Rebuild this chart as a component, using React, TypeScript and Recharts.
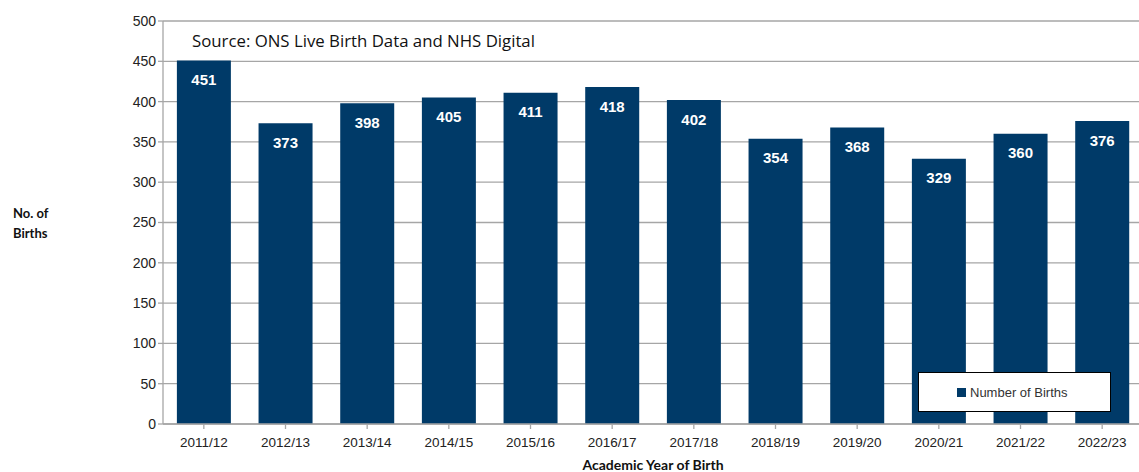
import React from "react";
import { BarChart, Bar, XAxis, YAxis, CartesianGrid, LabelList } from "recharts";

const years = ["2011/12","2012/13","2013/14","2014/15","2015/16","2016/17","2017/18","2018/19","2019/20","2020/21","2021/22","2022/23"];
const births = [451,373,398,405,411,418,402,354,368,329,360,376];
const yTicks = [0,50,100,150,200,250,300,350,400,450,500];

const data = years.map((y, i) => ({ year: y, births: births[i] }));

const BAR = "#003A68";
const FONT = "'Liberation Sans', Arial, sans-serif";

export default function App() {
  return (
    <div style={{ position: "absolute", left: 0, top: 0, width: 1139, height: 472, background: "#fff", overflow: "hidden" }}>
      <BarChart width={1139} height={472} data={data} margin={{ top: 21, right: -4, left: 103, bottom: 18 }} barCategoryGap="17%">
        <CartesianGrid vertical={false} stroke="#a6a6a6" strokeWidth={1.3} />
        <XAxis dataKey="year" stroke="#a6a6a6" strokeWidth={1.3} tickSize={5} height={30}
          tick={{ fill: "#222", fontSize: 13.5, fontFamily: FONT, dy: 6 }} interval={0}
          label={{ value: "Academic Year of Birth", position: "insideBottom", offset: -16, style: { fontFamily: "Lato, sans-serif", fontWeight: 700, fontSize: 14, fill: "#111" } }} />
        <YAxis domain={[0, 500]} ticks={yTicks} width={60} stroke="#a6a6a6" strokeWidth={1.3} tickSize={5}
          tick={{ fill: "#222", fontSize: 14, fontFamily: FONT }} interval={0} />
        <Bar dataKey="births" name="Number of Births" fill={BAR} isAnimationActive={false}>
          <LabelList dataKey="births" position="insideTop" offset={14} style={{ fill: "#fff", fontWeight: 700, fontSize: 15, fontFamily: FONT }} />
        </Bar>
      </BarChart>
      <div style={{ position: "absolute", left: 192, top: 29, fontFamily: "'Open Sans', sans-serif", fontSize: 16.8, color: "#111", whiteSpace: "nowrap" }}>
        Source: ONS Live Birth Data and NHS Digital
      </div>
      <div style={{ position: "absolute", left: 13, top: 203, fontFamily: "Lato, sans-serif", fontWeight: 700, fontSize: 13, color: "#111", lineHeight: "20px" }}>
        No. of<br />Births
      </div>
      <div style={{ position: "absolute", left: 918, top: 372, width: 193, height: 40, border: "1.5px solid #000", background: "#fff", boxSizing: "border-box", display: "flex", alignItems: "center", paddingLeft: 38, fontFamily: FONT, fontSize: 13, color: "#333" }}>
        <span style={{ display: "inline-block", width: 9, height: 9, background: BAR, marginRight: 4 }} />
        Number of Births
      </div>
    </div>
  );
}
